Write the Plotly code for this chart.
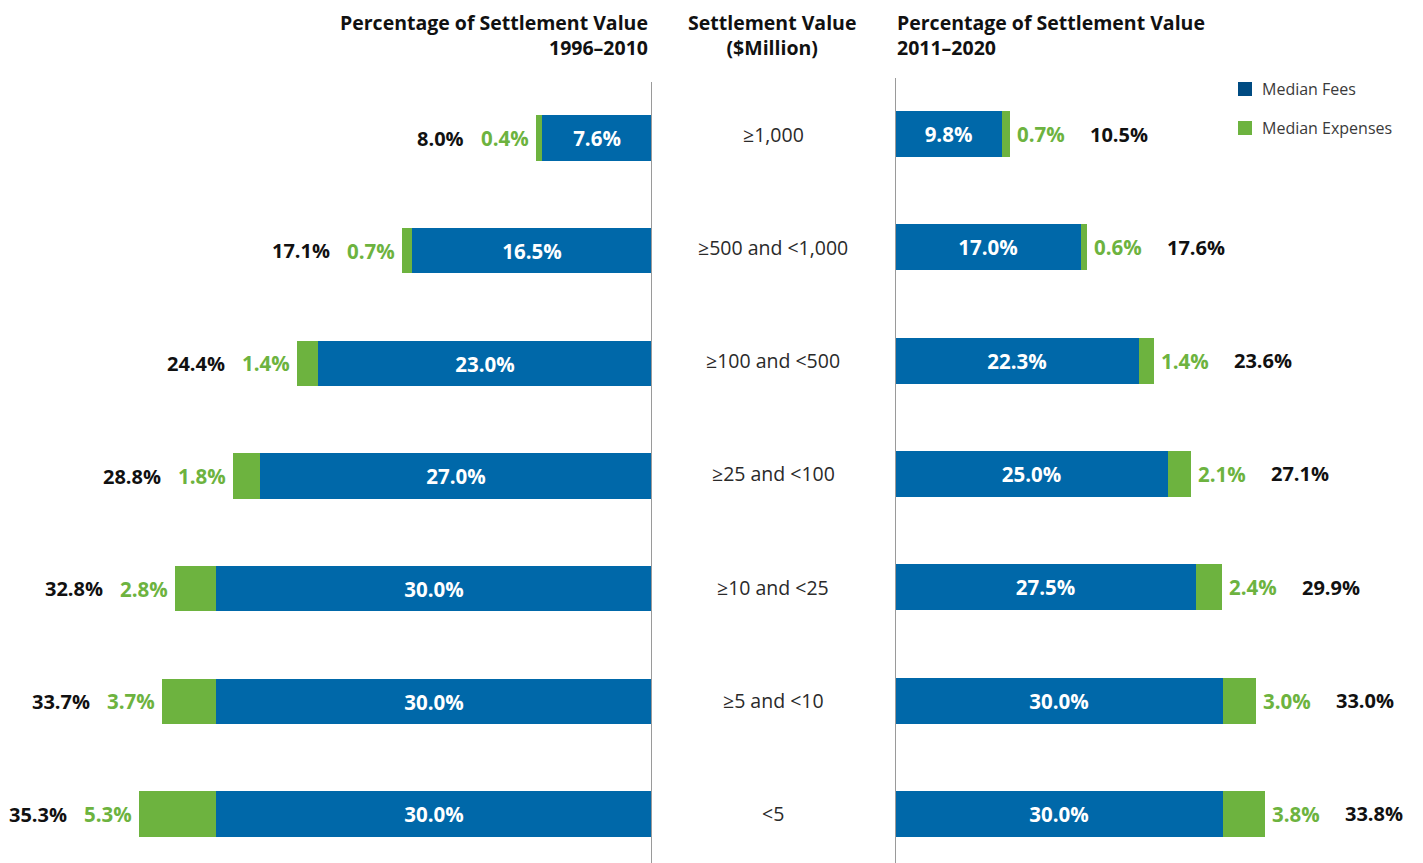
import plotly.graph_objects as go

categories = ["≥1,000", "≥500 and <1,000", "≥100 and <500", "≥25 and <100",
              "≥10 and <25", "≥5 and <10", "<5"]
fees_1996 = [7.6, 16.5, 23.0, 27.0, 30.0, 30.0, 30.0]
exp_1996 = [0.4, 0.7, 1.4, 1.8, 2.8, 3.7, 5.3]
tot_1996 = [8.0, 17.1, 24.4, 28.8, 32.8, 33.7, 35.3]
fees_2011 = [9.8, 17.0, 22.3, 25.0, 27.5, 30.0, 30.0]
exp_2011 = [0.7, 0.6, 1.4, 2.1, 2.4, 3.0, 3.8]
tot_2011 = [10.5, 17.6, 23.6, 27.1, 29.9, 33.0, 33.8]

W, H = 1423, 863
OFF = 8  # page body margin
BLUE = "#0068A9"
GREEN = "#6DB33F"
NAVY = "#004B82"
FONT = "Open Sans"


def px(xr):
    return (xr - OFF) / W


def py(yr):
    return 1 - (yr - OFF) / H


rows = list(range(len(categories)))

fig = go.Figure()
bar_font = dict(color="white", size=20.5, family=FONT, weight="bold")
fig.add_trace(go.Bar(y=rows, x=fees_1996, orientation="h", marker_color=BLUE,
                     marker_line_width=0, width=0.40, xaxis="x", yaxis="y",
                     text=[f"{v:.1f}%" for v in fees_1996], textposition="inside",
                     insidetextanchor="middle", textfont=bar_font,
                     name="Median Fees", showlegend=False, hoverinfo="skip"))
fig.add_trace(go.Bar(y=rows, x=exp_1996, orientation="h", marker_color=GREEN,
                     marker_line_width=0, width=0.40, xaxis="x", yaxis="y",
                     name="Median Expenses", showlegend=False, hoverinfo="skip"))
fig.add_trace(go.Bar(y=rows, x=fees_2011, orientation="h", marker_color=BLUE,
                     marker_line_width=0, width=0.405, xaxis="x2", yaxis="y2",
                     text=[f"{v:.1f}%" for v in fees_2011], textposition="inside",
                     insidetextanchor="middle", textfont=bar_font,
                     name="Median Fees", showlegend=False, hoverinfo="skip"))
fig.add_trace(go.Bar(y=rows, x=exp_2011, orientation="h", marker_color=GREEN,
                     marker_line_width=0, width=0.405, xaxis="x2", yaxis="y2",
                     name="Median Expenses", showlegend=False, hoverinfo="skip"))

annotations = []
lbl_font = dict(size=20.5, family=FONT, weight="bold")
tot_font = dict(size=20, family=FONT, weight="bold")
for i in rows:
    end_l = fees_1996[i] + exp_1996[i]
    annotations.append(dict(x=end_l, y=i, xref="x", yref="y", text=f"{exp_1996[i]:.1f}%",
                            xanchor="right", xshift=-5, showarrow=False,
                            font=dict(color=GREEN, **lbl_font)))
    annotations.append(dict(x=end_l, y=i, xref="x", yref="y", text=f"{tot_1996[i]:.1f}%",
                            xanchor="right", xshift=-70, showarrow=False,
                            font=dict(color="#111111", **tot_font)))
    end_r = fees_2011[i] + exp_2011[i]
    annotations.append(dict(x=end_r, y=i, xref="x2", yref="y2", text=f"{exp_2011[i]:.1f}%",
                            xanchor="left", xshift=5, showarrow=False,
                            font=dict(color=GREEN, **lbl_font)))
    annotations.append(dict(x=end_r, y=i, xref="x2", yref="y2", text=f"{tot_2011[i]:.1f}%",
                            xanchor="left", xshift=78, showarrow=False,
                            font=dict(color="#111111", **tot_font)))
    annotations.append(dict(x=px(773), y=i, xref="paper", yref="y2", text=categories[i],
                            xanchor="center", showarrow=False,
                            font=dict(color="#2a2a2a", size=19.5, family=FONT)))

hdr_font = dict(color="#111111", size=19.5, family=FONT, weight="bold")
annotations += [
    dict(x=px(650), y=py(35), xref="paper", yref="paper", xanchor="right", yanchor="middle",
         text="Percentage of Settlement Value<br>1996–2010", align="right", showarrow=False,
         font=hdr_font),
    dict(x=px(772), y=py(35), xref="paper", yref="paper", xanchor="center", yanchor="middle",
         text="Settlement Value<br>($Million)", align="center", showarrow=False, font=hdr_font),
    dict(x=px(895), y=py(35), xref="paper", yref="paper", xanchor="left", yanchor="middle",
         text="Percentage of Settlement Value<br>2011–2020", align="left", showarrow=False,
         font=hdr_font),
    dict(x=px(1260), y=py(89), xref="paper", yref="paper", xanchor="left", yanchor="middle",
         text="Median Fees", showarrow=False, font=dict(color="#3a3a3a", size=16, family=FONT)),
    dict(x=px(1260), y=py(128), xref="paper", yref="paper", xanchor="left", yanchor="middle",
         text="Median Expenses", showarrow=False, font=dict(color="#3a3a3a", size=16, family=FONT)),
]

shapes = [
    dict(type="line", xref="x", yref="paper", x0=0, x1=0, y0=0, y1=py(82),
         line=dict(color="#9a9a9a", width=2), layer="above"),
    dict(type="line", xref="x2", yref="paper", x0=0, x1=0, y0=0, y1=py(78),
         line=dict(color="#9a9a9a", width=2), layer="above"),
    dict(type="rect", xref="paper", yref="paper", x0=px(1238), x1=px(1252),
         y0=py(96), y1=py(82), fillcolor=NAVY, line_width=0),
    dict(type="rect", xref="paper", yref="paper", x0=px(1238), x1=px(1252),
         y0=py(135), y1=py(121), fillcolor=GREEN, line_width=0),
]

left_ppu = 436 / 30.0
right_ppu = 328 / 30.0
lz = 652 - OFF
rz = 895 - OFF
ax_common = dict(showgrid=False, zeroline=False, showticklabels=False, showline=False, ticks="")
lrow0, lstep = 138 - OFF, 112.67
rrow0, rstep = 134 - OFF, 113.33
fig.update_layout(
    width=W, height=H,
    margin=dict(l=0, r=0, t=0, b=0),
    paper_bgcolor="white", plot_bgcolor="white",
    barmode="stack", bargap=0,
    showlegend=False,
    xaxis=dict(domain=[0, lz / W], range=[lz / left_ppu, 0], **ax_common),
    xaxis2=dict(domain=[rz / W, 1], range=[0, (W - rz) / right_ppu], **ax_common),
    yaxis=dict(domain=[0, 1], anchor="x",
               range=[(H - lrow0) / lstep, -lrow0 / lstep], **ax_common),
    yaxis2=dict(domain=[0, 1], anchor="x2",
                range=[(H - rrow0) / rstep, -rrow0 / rstep], **ax_common),
    annotations=annotations,
    shapes=shapes,
    font=dict(family=FONT),
)

fig.write_html("out.html")
